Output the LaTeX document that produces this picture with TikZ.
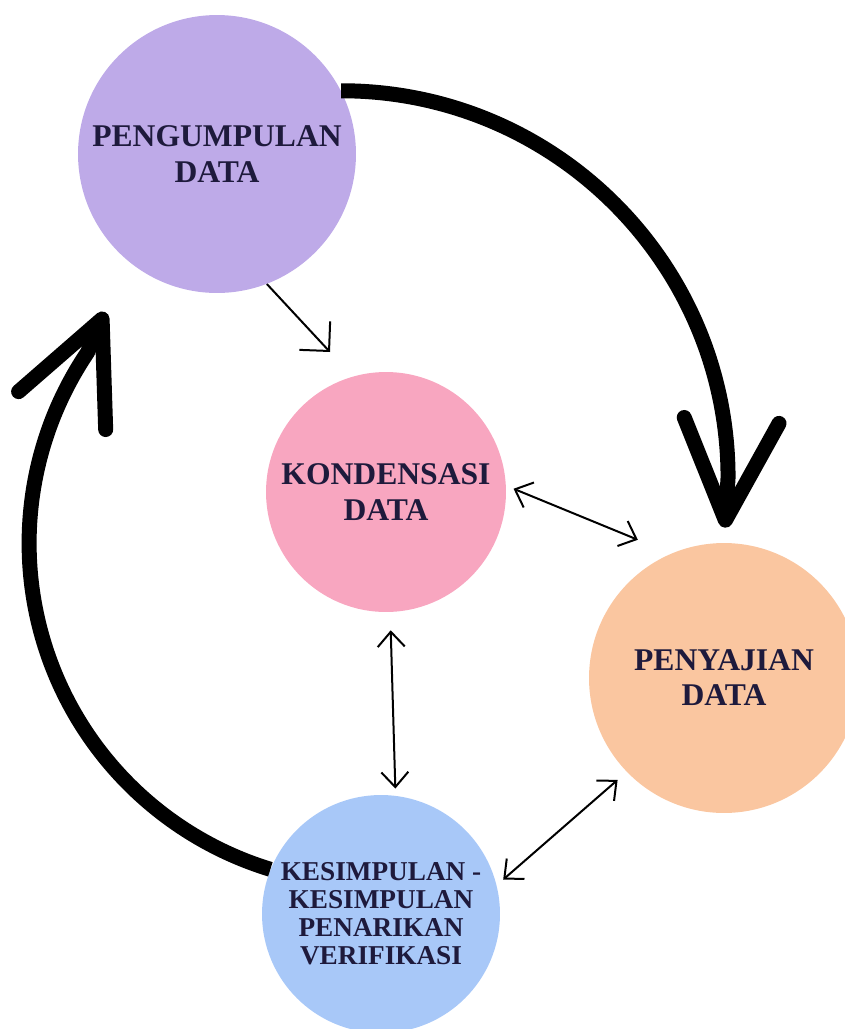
\documentclass[tikz,border=0pt]{standalone}
\usepackage{fontspec}
\setmainfont{Liberation Serif}
\usetikzlibrary{arrows.meta}

\definecolor{lilac}{HTML}{BEAAE8}
\definecolor{rose}{HTML}{F8A6C0}
\definecolor{peach}{HTML}{FAC6A0}
\definecolor{sky}{HTML}{A8C8F8}
\definecolor{ink}{HTML}{1E1A3C}

\begin{document}
\begin{tikzpicture}[x=0.02cm,y=0.02cm,
    bubble/.style={circle,inner sep=0pt,align=center,text=ink,font=\bfseries\fontsize{18}{20}\selectfont},
    bigarrow/.style={line width=0.3cm,-{Straight Barb[length=2cm,width=1.9cm,round]}},
    thinarrow/.style={line width=0.04cm,-{Straight Barb[length=0.42cm,width=0.84cm]}},
    twoway/.style={line width=0.04cm,{Straight Barb[length=0.3cm,width=0.54cm]}-{Straight Barb[length=0.3cm,width=0.54cm]}}]
      \useasboundingbox (0,0) rectangle (845,-1029);

      \node[bubble,fill=lilac,minimum size=5.56cm] (peng) at (217,-154) {PENGUMPULAN\\DATA};
      \node[bubble,fill=rose,minimum size=4.8cm] (kond) at (386,-492) {KONDENSASI\\DATA};
      \node[bubble,fill=peach,minimum size=5.4cm] (peny) at (724,-678) {PENYAJIAN\\DATA};
      \node[bubble,fill=sky,minimum size=4.76cm,font=\bfseries\fontsize{15.5}{16}\selectfont] (kesi) at (381,-914)
        {KESIMPULAN -\\KESIMPULAN\\PENARIKAN\\VERIFIKASI};

      % the big cycle
      \draw[bigarrow,shorten >=0.3cm] (peng.27) arc[start angle=90,end angle=0,radius=7.74cm] -- (peny.north);
      \draw[bigarrow,shorten >=1.12cm] (kesi.158) arc[start angle=253,end angle=146,radius=6.82cm] -- (peng.230);

      % small links
      \coordinate (pk) at (330,-352);
      \draw[thinarrow] (peng.-69) -- (pk);
      \draw[twoway,shorten <=0.16cm,shorten >=0.72cm] (kond.3) -- (peny.113);
      \draw[twoway,shorten <=0.36cm,shorten >=0.14cm] (kond.-88) -- (kesi.83);
      \draw[twoway,shorten <=0.24cm,shorten >=0.17cm] (peny.224) -- (kesi.14);
    \end{tikzpicture}
\end{document}
